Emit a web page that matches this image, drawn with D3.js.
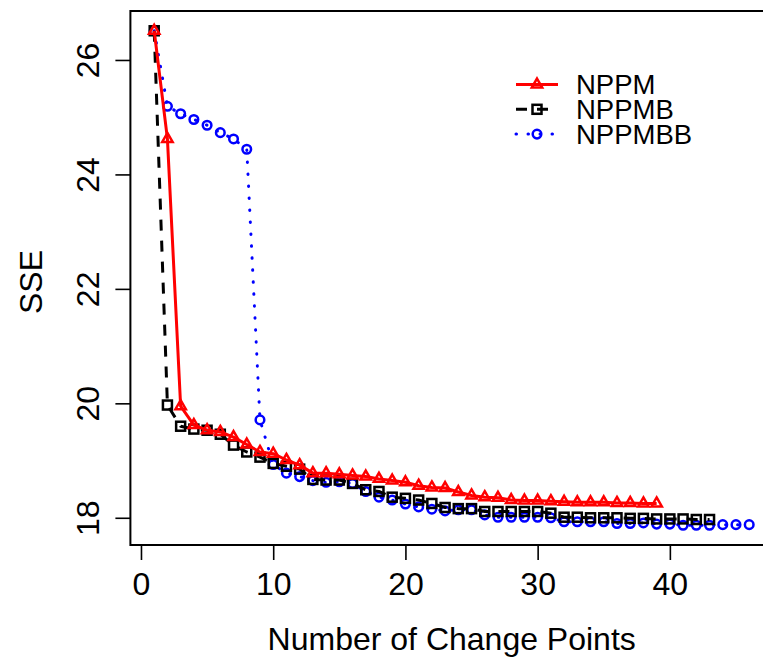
<!DOCTYPE html>
<html>
<head>
<meta charset="utf-8">
<script src="https://cdn.jsdelivr.net/npm/d3@7"></script>
<style>
body{margin:0;background:#fff}
svg{display:block}
text{font-family:"Liberation Sans",Arial,Helvetica,sans-serif;fill:#000}
</style>
</head>
<body>
<svg id="chart" width="763" height="662"></svg>
<script>
// SSE per number of change points (x = 1..n)
var nppm = [26.51,24.62,19.95,19.62,19.53,19.50,19.41,19.28,19.15,19.12,
            19.01,18.92,18.78,18.78,18.76,18.74,18.72,18.68,18.65,18.62,
            18.56,18.53,18.52,18.45,18.39,18.36,18.35,18.31,18.30,18.30,
            18.29,18.28,18.27,18.27,18.27,18.26,18.26,18.25,18.25];
var nppmb = [26.51,19.97,19.60,19.55,19.53,19.46,19.27,19.15,19.06,18.95,
             18.90,18.85,18.67,18.66,18.66,18.60,18.49,18.46,18.36,18.34,
             18.31,18.25,18.18,18.16,18.16,18.11,18.11,18.11,18.11,18.11,
             18.08,18.01,18.01,18.00,18.00,18.00,17.99,17.99,17.98,17.98,
             17.98,17.97,17.97];
var nppmbb = [26.51,25.19,25.06,24.96,24.86,24.73,24.62,24.44,19.71,18.93,
              18.78,18.72,18.65,18.62,18.63,18.60,18.46,18.36,18.31,18.24,
              18.19,18.15,18.12,18.14,18.14,18.05,18.01,18.01,18.01,18.01,
              18.00,17.93,17.93,17.93,17.93,17.90,17.90,17.91,17.89,17.89,
              17.87,17.87,17.87,17.88,17.88,17.88];
var seriesNames = ["NPPM", "NPPMB", "NPPMBB"];
var xTicks = [0, 10, 20, 30, 40];
var yTicks = [18, 20, 22, 24, 26];
var xTitle = "Number of Change Points";
var yTitle = "SSE";

function drawChart(){
    var svg = d3.select("#chart");
    var pl = 130.4, pr = 773, pt = 11, pb = 545;

    // R style 4% padding on the data range
    function pad(ext){ var d = (ext[1]-ext[0])*0.04; return [ext[0]-d, ext[1]+d]; }
    var all = nppm.concat(nppmb, nppmbb);
    var x = d3.scaleLinear().domain(pad([1, d3.max([nppm.length, nppmb.length, nppmbb.length])])).range([pl, pr]);
    var y = d3.scaleLinear().domain(pad(d3.extent(all))).range([pb, pt]);

    var series = [
        {name: seriesNames[2], values: nppmbb, color: "#0000ff", dash: "0.5,11.5", shape: "circle"},
        {name: seriesNames[1], values: nppmb, color: "#000000", dash: "11,10", shape: "square"},
        {name: seriesNames[0], values: nppm, color: "#ff0000", dash: null, shape: "triangle"}
    ];

    function symbol(g, shape, color){
        var r = 6, xc = r*Math.sqrt(3)/2;
        if(shape === "circle"){
            g.append("circle").attr("r", 4.3);
        } else if(shape === "square"){
            g.append("rect").attr("x", -4.5).attr("y", -4.5).attr("width", 9).attr("height", 9);
        } else {
            g.append("path").attr("d", "M0," + (-r) + "L" + xc + "," + (r/2) + "L" + (-xc) + "," + (r/2) + "Z");
        }
        g.selectAll("*").attr("fill", "none").attr("stroke", color).attr("stroke-width", 2.5);
    }

    var line = d3.line().x(function(d, i){ return x(i+1); }).y(function(d){ return y(d); });

    series.forEach(function(s){
        var g = svg.append("g");
        g.append("path")
            .attr("d", line(s.values))
            .attr("fill", "none")
            .attr("stroke", s.color)
            .attr("stroke-width", 3)
            .attr("stroke-linecap", s.shape === "circle" ? "round" : "butt")
            .attr("stroke-linejoin", "round")
            .attr("stroke-dasharray", s.dash);
        s.values.forEach(function(v, i){
            var p = g.append("g").attr("transform", "translate(" + x(i+1) + "," + y(v) + ")");
            symbol(p, s.shape, s.color);
        });
    });

    // box (right edge falls outside the picture)
    svg.append("rect")
        .attr("x", pl).attr("y", pt)
        .attr("width", pr-pl).attr("height", pb-pt)
        .attr("fill", "none").attr("stroke", "#000").attr("stroke-width", 2);

    // x axis
    var gx = svg.append("g").attr("transform", "translate(0," + pb + ")")
        .call(d3.axisBottom(x).tickValues(xTicks).tickSize(15).tickPadding(12).tickFormat(d3.format("d")));
    gx.select(".domain").remove();
    gx.selectAll("line").attr("stroke-width", 1.6);
    gx.selectAll("text").attr("font-size", 32).attr("font-family", null);

    // y axis, labels parallel to the axis
    var gy = svg.append("g").attr("transform", "translate(" + pl + ",0)")
        .call(d3.axisLeft(y).tickValues(yTicks).tickSize(15).tickFormat(d3.format("d")));
    gy.select(".domain").remove();
    gy.selectAll("line").attr("stroke-width", 1.6);
    gy.selectAll("text")
        .attr("x", null).attr("dy", null)
        .attr("text-anchor", "middle")
        .attr("transform", "translate(-31,0) rotate(-90)")
        .attr("font-size", 32).attr("font-family", null);

    svg.append("text")
        .attr("x", (pl+pr)/2).attr("y", 650)
        .attr("text-anchor", "middle").attr("font-size", 32)
        .text(xTitle);
    svg.append("text")
        .attr("transform", "translate(41.5," + ((pt+pb)/2 + 4) + ") rotate(-90)")
        .attr("text-anchor", "middle").attr("font-size", 32)
        .text(yTitle);

    // legend
    var legendRows = [series[2], series[1], series[0]];
    legendRows.forEach(function(s, i){
        var ly = 84.5 + i*24.8;
        var g = svg.append("g");
        g.append("line")
            .attr("x1", 516).attr("x2", 558).attr("y1", ly).attr("y2", ly)
            .attr("stroke", s.color).attr("stroke-width", 3)
            .attr("stroke-linecap", s.shape === "circle" ? "round" : "butt")
            .attr("stroke-dasharray", s.dash);
        var p = g.append("g").attr("transform", "translate(537," + ly + ")");
        symbol(p, s.shape, s.color);
        g.append("text")
            .attr("x", 576).attr("y", ly).attr("dy", "0.36em")
            .attr("font-size", 27.5)
            .text(s.name);
    });
}
drawChart();
</script>
</body>
</html>
